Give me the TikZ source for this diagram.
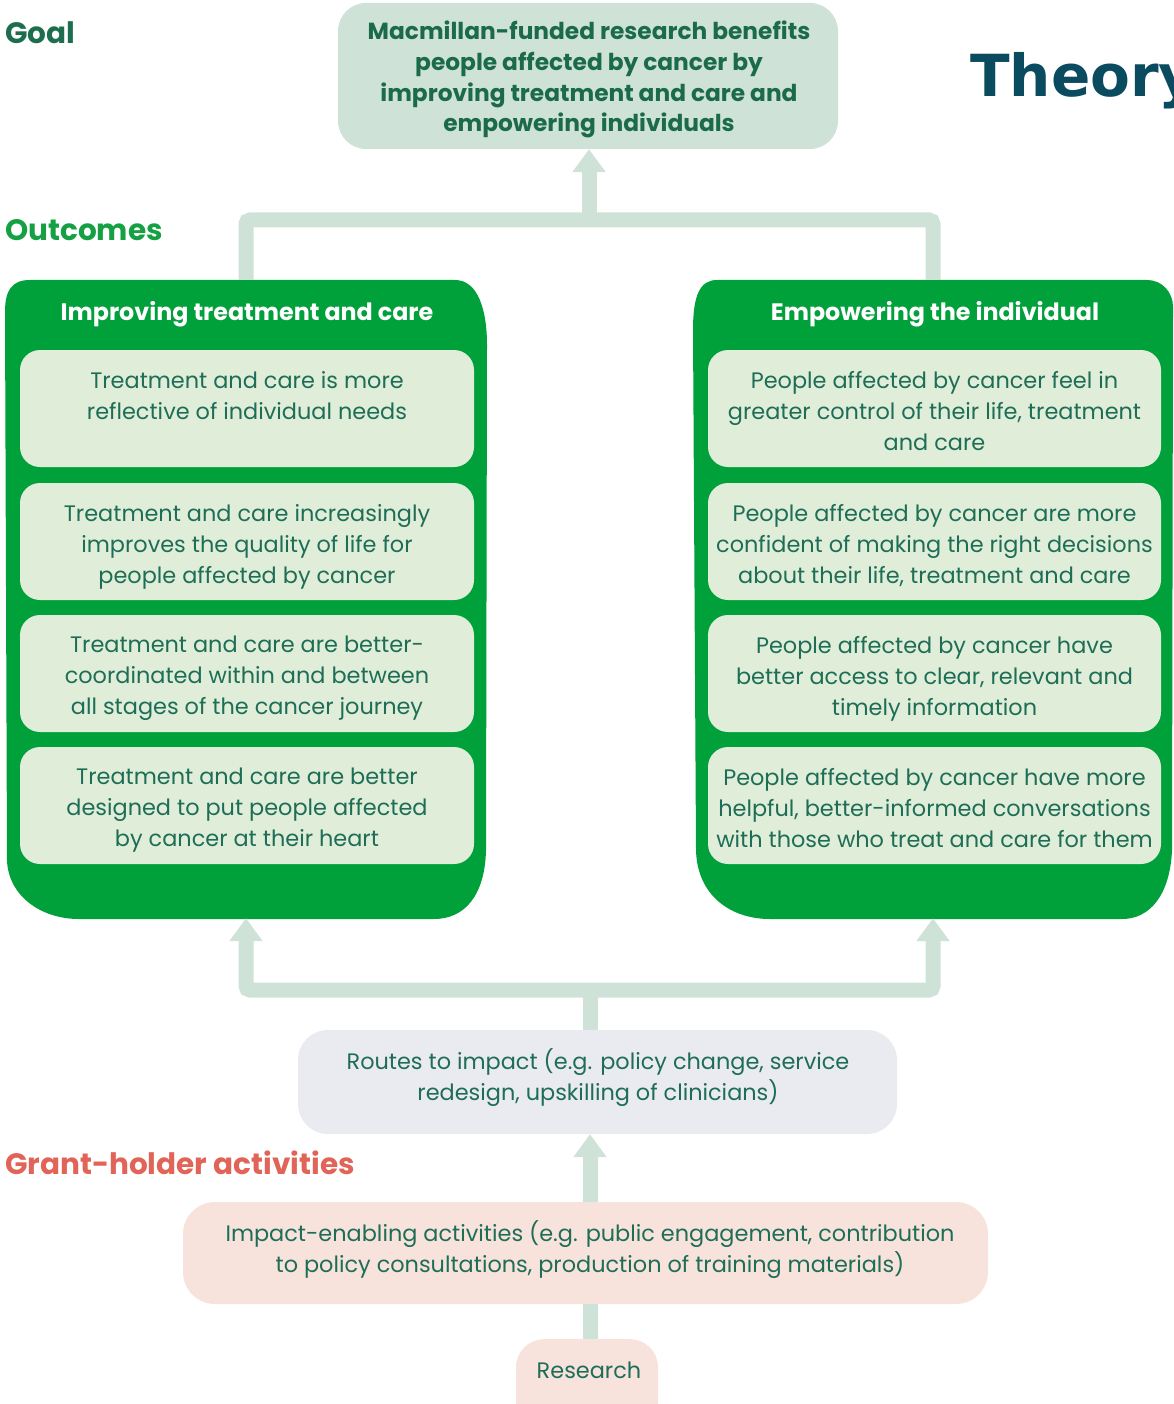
\documentclass[tikz,border=0pt]{standalone}
\usepackage{fontspec}
\setmainfont{Poppins}
\newfontfamily\theoryfont{DejaVu Sans}
\usetikzlibrary{arrows.meta}
\definecolor{conncol}{RGB}{207,226,216}
\definecolor{goalfill}{RGB}{207,226,216}
\definecolor{goaltxt}{RGB}{27,107,75}
\definecolor{mgreen}{RGB}{0,160,59}
\definecolor{innerfill}{RGB}{224,238,217}
\definecolor{innertxt}{RGB}{30,109,87}
\definecolor{goallab}{RGB}{29,110,78}
\definecolor{outlab}{RGB}{20,160,67}
\definecolor{grantlab}{RGB}{224,100,87}
\definecolor{routesfill}{RGB}{234,235,240}
\definecolor{impfill}{RGB}{248,227,220}
\definecolor{theorycol}{RGB}{11,75,96}
\begin{document}
\begin{tikzpicture}[x=1pt,y=-1pt,
  conn/.style={draw=conncol,line width=15pt,rounded corners=4pt},
  tip/.style={-{Triangle[length=23pt,width=32pt]}},
  inbox/.style={fill=innerfill,rounded corners=20pt,minimum height=117pt,inner sep=0pt,draw=none},
  intext/.style={text=innertxt,align=center,anchor=north,inner sep=0pt,font=\fontsize{22.4}{31}\selectfont},
  title/.style={text=white,anchor=base,inner sep=0pt,font=\bfseries\fontsize{23.8}{26}\selectfont},
  seclab/.style={anchor=base west,inner sep=0pt,font=\bfseries\fontsize{29.5}{31}\selectfont},
  bottxt/.style={text=innertxt,align=center,inner sep=0pt,font=\fontsize{22.4}{31}\selectfont}
]
\useasboundingbox (0,0) rectangle (1173,1404);
\clip (0,0) rectangle (1173,1404);

% section labels
\node[seclab,text=goallab] (goallbl) at (5,44) {Goal};
\node[seclab,text=outlab] (outlbl) at (5,241) {Outcomes};
\node[seclab,text=grantlab] (grantlbl) at (5,1174) {Grant-holder activities};
\node[anchor=base west,inner sep=0pt,text=theorycol,font=\theoryfont\bfseries\fontsize{58}{60}\selectfont] (theory) at (970,97) {Theory};

% goal
\node[fill=goalfill,rounded corners=28pt,minimum width=500pt,minimum height=146pt,inner sep=0pt] (goal) at (588,76) {};
\node[text=goaltxt,align=center,anchor=north,inner sep=0pt,font=\bfseries\fontsize{23.3}{30.7}\selectfont] (goaltext) at (589,21)
  {Macmillan-funded research benefits\\people affected by cancer by\\improving treatment and care and\\empowering individuals};

% green outcome boxes (invisible frames + drawn shape)
\node[minimum width=482pt,minimum height=638pt,inner sep=0pt] (lg) at (246,599) {};
\node[minimum width=480pt,minimum height=638pt,inner sep=0pt] (rg) at (933,599) {};
\fill[mgreen] (5,312) .. controls (5,290) and (12,280) .. (30,280) -- (455,280)
  .. controls (478,280) and (487,310) .. (487,345) -- (486,850)
  .. controls (485,895) and (465,919) .. (434,919) -- (79,919)
  .. controls (40,919) and (8,895) .. (7,860) -- cycle;
\fill[mgreen] (693,330) .. controls (693,295) and (700,280) .. (717,280) -- (1147,280)
  .. controls (1162,280) and (1173,292) .. (1173,307) -- (1172,850)
  .. controls (1170,895) and (1150,919) .. (1122,919) -- (770,919)
  .. controls (730,919) and (697,895) .. (696,850) -- cycle;

\node[title] (ltitle) at (247,320) {Improving treatment and care};
\node[title] (rtitle) at (935,320) {Empowering the individual};

% left inner boxes
\node[inbox,minimum width=454pt] (lb1) at (247,408.5) {};
\node[inbox,minimum width=454pt] (lb2) at (247,541.5) {};
\node[inbox,minimum width=454pt] (lb3) at (247,673.5) {};
\node[inbox,minimum width=454pt] (lb4) at (247,805.5) {};
\node[intext,yshift=-21pt] (lt1) at (lb1.north) {Treatment and care is more\\reflective of individual needs};
\node[intext,yshift=-21pt] (lt2) at (lb2.north) {Treatment and care increasingly\\improves the quality of life for\\people affected by cancer};
\node[intext,yshift=-21pt] (lt3) at (lb3.north) {Treatment and care are better-\\coordinated within and between\\all stages of the cancer journey};
\node[intext,yshift=-21pt] (lt4) at (lb4.north) {Treatment and care are better\\designed to put people affected\\by cancer at their heart};

% right inner boxes
\node[inbox,minimum width=453pt] (rb1) at (934.5,408.5) {};
\node[inbox,minimum width=453pt] (rb2) at (934.5,541.5) {};
\node[inbox,minimum width=453pt] (rb3) at (934.5,673.5) {};
\node[inbox,minimum width=453pt] (rb4) at (934.5,805.5) {};
\node[intext,yshift=-21pt] (rt1) at (rb1.north) {People affected by cancer feel in\\greater control of their life, treatment\\and care};
\node[intext,yshift=-21pt] (rt2) at (rb2.north) {People affected by cancer are more\\confident of making the right decisions\\about their life, treatment and care};
\node[intext,yshift=-21pt] (rt3) at (rb3.north) {People affected by cancer have\\better access to clear, relevant and\\timely information};
\node[intext,yshift=-21pt] (rt4) at (rb4.north) {People affected by cancer have more\\helpful, better-informed conversations\\with those who treat and care for them};

% bottom boxes
\node[fill=routesfill,rounded corners=30pt,minimum width=599pt,minimum height=104pt,inner sep=0pt] (routes) at (597.5,1082) {};
\node[bottxt] (routestxt) at (598,1078)
  {Routes to impact (e.g. policy change, service\\redesign, upskilling of clinicians)};
\node[fill=impfill,rounded corners=32pt,minimum width=805pt,minimum height=102pt,inner sep=0pt] (imp) at (585.5,1253) {};
\node[bottxt] (imptxt) at (590,1250)
  {Impact-enabling activities (e.g. public engagement, contribution\\to policy consultations, production of training materials)};
\node[fill=impfill,rounded corners=28pt,minimum width=142pt,minimum height=90pt,inner sep=0pt,anchor=north] (res) at (587,1339) {};
\node[bottxt] (restxt) at (589,1370) {Research};

% connectors
\coordinate (topj) at (589,220);
\coordinate (botj) at (590,990);
\draw[conn] (lg.north) |- (topj) -| (rg.north);
\draw[conn,tip,rounded corners=0pt] (topj) -- (goal.south -| topj);
\draw[conn,tip] (botj) -| (lg.south);
\draw[conn,tip] (botj) -| (rg.south);
\draw[conn,rounded corners=0pt] (routes.north -| botj) -- (botj);
\draw[conn,tip,rounded corners=0pt] (imp.north -| botj) -- (routes.south -| botj);
\draw[conn,rounded corners=0pt] (res.north -| botj) -- (imp.south -| botj);
\end{tikzpicture}
\end{document}
